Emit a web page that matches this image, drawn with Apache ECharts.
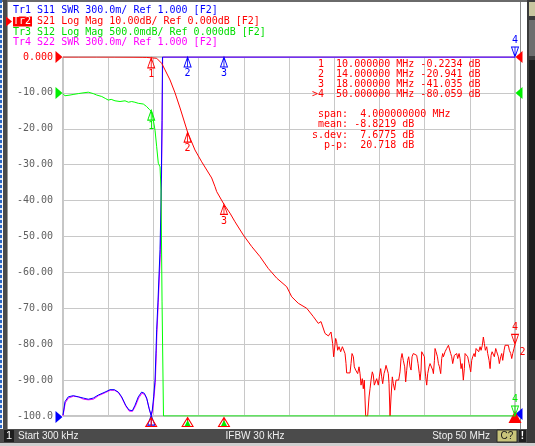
<!DOCTYPE html>
<html><head><meta charset="utf-8">
<script src="https://cdn.jsdelivr.net/npm/echarts@6/dist/echarts.min.js"></script>
<style>html,body{margin:0;padding:0;background:#fff;overflow:hidden}#c{width:535px;height:446px}</style>
</head><body><div id="c"></div>
<script>
// ---------- data ----------
const yTickLabels = ["-100.0","-90.00","-80.00","-70.00","-60.00","-50.00","-40.00","-30.00","-20.00","-10.00","0.000"];
const startMHz = 0.3, stopMHz = 50;

// Tr2 S21 Log Mag (dB)  [MHz, dB]
const redTrace = [
[0.3,0],[2.0,0],[4.0,0],[6.0,-0.02],[8.0,-0.05],[9.0,-0.08],[9.5,-0.12],[10.0,-0.2234],[10.6,-0.36],[11.15,-1.75],
[11.52,-3.6],[12.07,-6.4],[12.62,-10.0],[13.17,-14.2],[14.0,-20.94],[14.81,-25.9],[15.55,-29.2],[16.65,-33.7],[17.01,-36.1],[17.2,-37.5],
[18.0,-41.04],[18.66,-43.5],[19.21,-45.9],[20.13,-49.6],[21.05,-52.8],[21.96,-55.6],[22.87,-58.9],[23.8,-61.6],[24.9,-64.0],[25.45,-66.8],
[26.17,-68.6],[27.1,-70.0],[27.82,-72.3],[28.37,-74.2],[28.67,-73.7],[29.11,-77.0],[29.48,-77.7],[29.77,-76.6],[29.95,-79.8],[30.06,-83.5],
[30.14,-83.3],[30.28,-78.4],[30.39,-79.3],[30.5,-81.7],[30.65,-80.7],[30.76,-80.3],[30.83,-82.1],[31.02,-80.7],[31.2,-80.6],[31.31,-82.6],
[31.42,-85.4],[31.49,-88.0],[31.86,-88.0],[31.97,-85.4],[32.08,-82.6],[32.23,-83.5],[32.33,-86.3],[32.48,-87.2],[32.59,-86.8],[32.7,-88.2],
[32.85,-86.3],[32.96,-88.2],[33.07,-91.4],[33.21,-89.6],[33.32,-92.4],[33.43,-90.0],[33.58,-100],[33.8,-100],[33.95,-94.7],[34.06,-92.4],
[34.17,-90.0],[34.31,-87.7],[34.42,-88.6],[34.53,-91.4],[34.68,-91.0],[34.79,-89.6],[34.97,-91.4],[35.08,-89.1],[35.23,-86.8],[35.34,-89.1],
[35.45,-91.0],[35.6,-88.2],[35.71,-87.2],[35.82,-85.9],[35.96,-86.3],[36.07,-88.2],[36.15,-91.0],[36.26,-100],[36.37,-94.7],[36.51,-89.1],
[36.62,-91.0],[36.77,-92.8],[36.92,-90.0],[37.06,-89.6],[37.21,-90.0],[37.36,-87.7],[37.47,-84.0],[37.58,-82.6],[37.72,-84.5],[37.87,-86.3],
[37.98,-90.5],[38.09,-87.3],[38.2,-84.5],[38.31,-83.5],[38.46,-86.3],[38.57,-87.2],[38.68,-83.5],[38.82,-82.6],[38.97,-82.1],[39.19,-83.1],
[39.34,-85.4],[39.48,-88.2],[39.56,-90.0],[39.67,-87.2],[39.74,-82.1],[39.93,-82.1],[40.04,-83.5],[40.11,-87.2],[40.18,-89.1],[40.29,-91.4],
[40.4,-88.2],[40.55,-86.3],[40.66,-85.4],[40.84,-84.9],[40.95,-87.2],[41.03,-88.2],[41.14,-84.5],[41.21,-81.2],[41.32,-82.1],[41.47,-83.5],
[41.58,-85.4],[41.69,-86.3],[41.83,-88.2],[41.94,-84.0],[42.05,-82.6],[42.13,-83.5],[42.31,-82.1],[42.49,-81.2],[42.68,-80.3],[42.79,-80.7],
[42.93,-82.6],[43.04,-83.5],[43.15,-85.4],[43.23,-84.9],[43.33,-83.1],[43.48,-83.5],[43.59,-82.6],[43.7,-84.0],[43.85,-82.6],[43.96,-84.0],
[44.07,-86.8],[44.18,-85.4],[44.32,-90.0],[44.43,-86.8],[44.51,-82.6],[44.62,-82.1],[44.69,-82.6],[44.8,-83.5],[44.95,-85.4],[45.06,-86.8],
[45.13,-87.7],[45.24,-84.5],[45.35,-83.5],[45.5,-82.6],[45.61,-83.5],[45.72,-81.2],[45.86,-81.7],[46.01,-82.1],[46.16,-80.7],[46.27,-81.7],
[46.41,-80.3],[46.52,-78.0],[46.63,-79.8],[46.74,-81.7],[46.89,-80.7],[47.0,-82.6],[47.15,-84.5],[47.26,-86.8],[47.37,-83.1],[47.48,-82.1],
[47.62,-82.6],[47.73,-83.5],[47.88,-81.2],[47.99,-82.1],[48.17,-83.5],[48.28,-85.4],[48.43,-83.5],[48.54,-82.6],[48.65,-84.5],[48.8,-81.7],
[48.91,-80.3],[49.09,-80.0],[49.27,-80.3],[49.38,-81.7],[49.53,-82.6],[49.64,-84.0],[49.75,-82.6],[49.89,-81.2],[50.0,-80.059]
];

// Tr1 S11 SWR (display clamps at 4.000)
const blueTrace = [
[0.3,1.008],[0.52,1.12],[0.88,1.16],[1.43,1.17],[1.98,1.16],[2.53,1.15],[3.08,1.14],[3.63,1.15],[4.18,1.175],[4.92,1.20],
[5.47,1.22],[5.94,1.22],[6.38,1.20],[6.75,1.16],[7.19,1.09],[7.56,1.05],[7.92,1.044],[8.22,1.09],[8.58,1.16],[8.95,1.20],
[9.24,1.19],[9.5,1.15],[9.76,1.064],[9.98,1.008],[10.12,1.05],[10.27,1.16],[10.42,1.30],[10.53,1.55],[10.6,1.72],[10.75,1.97],
[10.97,2.39],[11.08,2.80],[11.19,3.47],[11.24,4.0],[50.0,4.0]
];

// Tr4 S22 SWR
const magentaTrace = [
[0.3,1.0],[0.55,1.11],[0.9,1.15],[1.45,1.165],[2.0,1.16],[2.55,1.14],[3.1,1.135],[3.65,1.14],[4.2,1.17],[4.95,1.195],
[5.5,1.215],[5.97,1.215],[6.4,1.195],[6.78,1.15],[7.22,1.08],[7.6,1.04],[7.95,1.04],[8.25,1.08],[8.62,1.15],[8.98,1.19],
[9.27,1.18],[9.53,1.14],[9.8,1.055],[10.0,1.0],[10.15,1.04],[10.3,1.15],[10.45,1.28],[10.56,1.52],[10.63,1.70],[10.78,1.95],
[11.0,2.35],[11.1,2.78],[11.2,3.45],[11.26,4.0],[50.0,4.0]
];

// Tr3 S12 Log Mag, 0.5 dB/div (display clamps at -4.5)
const greenTrace = [
[0.3,-0.01],[0.5,-0.04],[0.71,-0.05],[1.07,-0.03],[1.5,-0.02],[1.98,-0.01],[2.5,0.0],[3.08,0.01],[3.63,-0.01],[4.01,-0.03],
[4.56,-0.05],[5.0,-0.08],[5.28,-0.10],[5.6,-0.09],[6.02,-0.11],[6.57,-0.12],[7.12,-0.11],[7.5,-0.13],[7.85,-0.12],[8.2,-0.13],
[8.58,-0.145],[9.13,-0.155],[9.5,-0.19],[9.79,-0.23],[10.05,-0.26],[10.23,-0.38],[10.42,-0.52],[10.6,-0.75],[10.78,-0.98],[10.97,-1.03],
[11.08,-1.35],[11.19,-2.9],[11.35,-4.5],[50.0,-4.5]
];

const markerFreq = [10, 14, 18, 50];
const redMarkerDb = [-0.2234, -20.941, -41.035, -80.059];
const greenMarkerDb = [-0.24, -4.5, -4.5, -4.5];
const blueMarkerSwr = [1.008, 4.0, 4.0, 4.0];

const legendLines = [
  {t:"Tr1 S11 SWR 300.0m/ Ref 1.000 [F2]", c:"#0000ff"},
  {t:"Tr2 S21 Log Mag 10.00dB/ Ref 0.000dB [F2]", c:"#ff0000"},
  {t:"Tr3 S12 Log Mag 500.0mdB/ Ref 0.000dB [F2]", c:"#00dd00"},
  {t:"Tr4 S22 SWR 300.0m/ Ref 1.000 [F2]", c:"#ff00ff"}
];
const markerTable = [
  " 1  10.000000 MHz -0.2234 dB",
  " 2  14.000000 MHz -20.941 dB",
  " 3  18.000000 MHz -41.035 dB",
  ">4  50.000000 MHz -80.059 dB"
];
const statsTable = [
  " span:  4.000000000 MHz",
  " mean: -8.8219 dB",
  "s.dev:  7.6775 dB",
  "  p-p:  20.718 dB"
];

// ---------- styling ----------
const MONO = '"DejaVu Sans Mono", monospace';
const RED = '#ff0000', BLUE = '#0000ff', GREEN = '#00ee00', MAG = '#ff00ff';
const UP = 'path://M4,0L8,9L0,9Z M4,0L4,9';
const DOWN = 'path://M0,0L8,0L4,9Z M4,0L4,9';
const TRI_R = 'path://M0,0L7,6L0,12Z';
const TRI_L = 'path://M7,0L0,6L7,12Z';

function mk(coord, color, dir, label) {
  return {
    coord: coord, symbol: dir === 'up' ? UP : DOWN, symbolSize: [7, 10],
    symbolOffset: [0, dir === 'up' ? 5 : -5],
    itemStyle: {color: 'rgba(0,0,0,0)', borderColor: color, borderWidth: 1},
    label: {show: !!label, formatter: label || '', position: dir === 'up' ? 'bottom' : 'top', distance: 1,
      color: color, fontSize: 10, fontFamily: MONO}
  };
}
function ref(coord, color, side, dy) {
  return {
    coord: coord, symbol: side === 'left' ? TRI_R : TRI_L, symbolSize: [7, 12],
    symbolOffset: [side === 'left' ? -4 : 4, dy || 0],
    itemStyle: {color: color, borderWidth: 0}, label: {show: false}
  };
}
function stim(coord, color, filled, size, dy) {
  return {
    coord: coord, symbol: filled ? 'triangle' : UP, symbolSize: size, symbolOffset: [0, dy],
    itemStyle: filled ? {color: color, borderWidth: 0} : {color: 'rgba(0,0,0,0)', borderColor: color, borderWidth: 1},
    label: {show: false}
  };
}

const redMarks = [
  mk([markerFreq[0], redMarkerDb[0]], RED, 'up', '1'),
  mk([markerFreq[1], redMarkerDb[1]], RED, 'up', '2'),
  mk([markerFreq[2], redMarkerDb[2]], RED, 'up', '3'),
  mk([markerFreq[3], redMarkerDb[3]], RED, 'down', '4'),
  {coord: [markerFreq[3], redMarkerDb[3]], symbol: 'circle', symbolSize: 1, itemStyle: {color: 'rgba(0,0,0,0)'},
   label: {show: true, formatter: '2', position: 'right', offset: [-1, 8], color: RED, fontSize: 10, fontFamily: MONO}},
  ref([startMHz, 0], RED, 'left'), ref([stopMHz, 0], RED, 'right'),
  stim([markerFreq[0], -100], RED, false, [11, 9], 6),
  stim([markerFreq[1], -100], RED, false, [11, 9], 6),
  stim([markerFreq[2], -100], RED, false, [11, 9], 6),
  stim([markerFreq[3], -100], RED, true, [13, 12], 1)
];
const greenMarks = [
  mk([markerFreq[0], greenMarkerDb[0]], GREEN, 'up', '1'),
  stim([markerFreq[1], greenMarkerDb[1]], GREEN, true, [6, 6], 7),
  stim([markerFreq[2], greenMarkerDb[2]], GREEN, true, [6, 6], 7),
  mk([markerFreq[3], greenMarkerDb[3]], GREEN, 'down', '4'),
  ref([startMHz, 0], GREEN, 'left'), ref([stopMHz, 0], GREEN, 'right')
];
const blueMarks = [
  mk([markerFreq[0], blueMarkerSwr[0]], BLUE, 'up', ''),
  mk([markerFreq[1], blueMarkerSwr[1]], BLUE, 'up', '2'),
  mk([markerFreq[2], blueMarkerSwr[2]], BLUE, 'up', '3'),
  mk([markerFreq[3], blueMarkerSwr[3]], BLUE, 'down', '4'),
  ref([startMHz, 1.0], BLUE, 'left', 1), ref([stopMHz, 1.0], BLUE, 'right', -2)
];

function line(name, data, color, yi, marks, z) {
  return {
    name: name, type: 'line', data: data, yAxisIndex: yi, showSymbol: false, symbol: 'none',
    lineStyle: {color: color, width: 1}, itemStyle: {color: color}, z: z, silent: true,
    markPoint: {silent: true, animation: false, data: marks || []}
  };
}

// ---------- graphics (frame, texts) ----------
const g = [];
g.push({type: 'rect', shape: {x: 0, y: 0, width: 535, height: 2}, style: {fill: '#6a6a6a'}, silent: true});
g.push({type: 'rect', shape: {x: 0, y: 0, width: 2, height: 446}, style: {fill: '#dde6f2'}, silent: true});
g.push({type: 'line', shape: {x1: 1, y1: 0, x2: 1, y2: 446}, style: {stroke: '#2a66c8', lineWidth: 2, lineDash: [3, 2]}, silent: true});
g.push({type: 'rect', shape: {x: 3, y: 0, width: 4, height: 446}, style: {fill: '#4a4a4a'}, silent: true});
g.push({type: 'rect', shape: {x: 7, y: 2, width: 1, height: 444}, style: {fill: '#9a9a9a'}, silent: true});
g.push({type: 'line', shape: {x1: 520.5, y1: 2, x2: 520.5, y2: 446}, style: {stroke: '#8a8a8a', lineWidth: 1}, silent: true});
g.push({type: 'rect', shape: {x: 527, y: 0, width: 8, height: 446}, style: {fill: '#3a3a3a'}, silent: true});
g.push({type: 'rect', shape: {x: 529, y: 2, width: 6, height: 14}, style: {fill: '#c9c6a0'}, silent: true});
g.push({type: 'rect', shape: {x: 529, y: 20, width: 6, height: 36}, style: {fill: '#6e6e6e'}, silent: true});
g.push({type: 'rect', shape: {x: 529, y: 60, width: 6, height: 300}, style: {fill: '#1e1e1e'}, silent: true});
// status bar
g.push({type: 'rect', shape: {x: 0, y: 429, width: 527, height: 14}, style: {fill: '#4b4b4b'}, silent: true});
g.push({type: 'rect', shape: {x: 0, y: 443, width: 535, height: 3}, style: {fill: '#cfcfcf'}, silent: true});
g.push({type: 'rect', shape: {x: 4, y: 430, width: 10, height: 12}, style: {fill: '#1e1e1e'}, silent: true});
g.push({type: 'text', style: {text: '1', x: 9, y: 436, fill: '#ffffff', font: '11px "Liberation Sans"', align: 'center', verticalAlign: 'middle', textAlign: 'center', textVerticalAlign: 'middle'}, silent: true});
g.push({type: 'text', style: {text: 'Start 300 kHz', x: 18, y: 436, fill: '#f0f0f0', font: '10px "Liberation Sans"', align: 'left', verticalAlign: 'middle', textAlign: 'left', textVerticalAlign: 'middle'}, silent: true});
g.push({type: 'text', style: {text: 'IFBW 30 kHz', x: 255, y: 436, fill: '#f0f0f0', font: '10px "Liberation Sans"', align: 'center', verticalAlign: 'middle', textAlign: 'center', textVerticalAlign: 'middle'}, silent: true});
g.push({type: 'text', style: {text: 'Stop 50 MHz', x: 490, y: 436, fill: '#f0f0f0', font: '10px "Liberation Sans"', align: 'right', verticalAlign: 'middle', textAlign: 'right', textVerticalAlign: 'middle'}, silent: true});
g.push({type: 'rect', shape: {x: 497, y: 430, width: 20, height: 12}, style: {fill: '#c8c47a', stroke: '#2a2a2a', lineWidth: 1}, silent: true});
g.push({type: 'text', style: {text: 'C?', x: 507, y: 436, fill: '#1a1a1a', font: '10px "Liberation Sans"', align: 'center', verticalAlign: 'middle', textAlign: 'center', textVerticalAlign: 'middle'}, silent: true});
g.push({type: 'rect', shape: {x: 519, y: 430, width: 7, height: 12}, style: {fill: '#1e1e1e'}, silent: true});
g.push({type: 'text', style: {text: '!', x: 522.5, y: 436, fill: '#ffffff', font: 'bold 10px "Liberation Sans"', align: 'center', verticalAlign: 'middle', textAlign: 'center', textVerticalAlign: 'middle'}, silent: true});
// legend lines
const legendY = [10.5, 21.5, 32, 42.5];
g.push({type: 'rect', shape: {x: 13, y: 16.5, width: 19, height: 10}, style: {fill: RED}, silent: true});
g.push({type: 'polygon', shape: {points: [[6, 16.5], [12, 21.5], [6, 26.5]]}, style: {fill: RED}, silent: true});
legendLines.forEach(function (L, i) {
  let txt = L.t;
  if (i === 1) {
    g.push({type: 'text', style: {text: 'Tr2', x: 13, y: legendY[i], fill: '#ffffff', font: '10px ' + MONO, align: 'left', verticalAlign: 'middle', textAlign: 'left', textVerticalAlign: 'middle'}, silent: true, z: 10});
    txt = '   ' + txt.slice(3);
  }
  g.push({type: 'text', style: {text: txt, x: 13, y: legendY[i], fill: L.c, font: '10px ' + MONO, align: 'left', verticalAlign: 'middle', textAlign: 'left', textVerticalAlign: 'middle'}, silent: true, z: 10});
});
const tableY = [64, 74, 84, 94];
markerTable.forEach(function (t, i) {
  g.push({type: 'text', style: {text: t, x: 312, y: tableY[i], fill: RED, font: '10px ' + MONO, align: 'left', verticalAlign: 'middle', textAlign: 'left', textVerticalAlign: 'middle'}, silent: true, z: 10});
});
const statsY = [114, 124.5, 135, 145];
statsTable.forEach(function (t, i) {
  g.push({type: 'text', style: {text: t, x: 312, y: statsY[i], fill: RED, font: '10px ' + MONO, align: 'left', verticalAlign: 'middle', textAlign: 'left', textVerticalAlign: 'middle'}, silent: true, z: 10});
});

// ---------- chart ----------
const chart = echarts.init(document.getElementById('c'), null, {renderer: 'canvas'});
chart.setOption({
  animation: false,
  backgroundColor: '#ffffff',
  grid: {left: 63, right: 20, top: 57, bottom: 30, show: true, borderColor: '#8c8c8c', borderWidth: 1, backgroundColor: '#ffffff'},
  xAxis: {
    type: 'value', min: startMHz, max: stopMHz, interval: (stopMHz - startMHz) / 10,
    axisLabel: {show: false}, axisTick: {show: false}, axisLine: {show: false},
    splitLine: {show: true, lineStyle: {color: '#c8c8c8', width: 1}}
  },
  yAxis: [
    {type: 'value', min: -100, max: 0, interval: 10,
      axisLine: {show: false}, axisTick: {show: false},
      splitLine: {show: true, lineStyle: {color: '#c8c8c8', width: 1}},
      axisLabel: {margin: 10, fontFamily: MONO, fontSize: 10, color: '#606060',
        formatter: function (v) {
          const s = yTickLabels[Math.round((v + 100) / 10)];
          return v === 0 ? '{r|' + s + '}' : '{g|' + s + '}';
        },
        rich: {r: {color: RED, fontFamily: MONO, fontSize: 10}, g: {color: '#606060', fontFamily: MONO, fontSize: 10}}
      }},
    {type: 'value', min: -4.5, max: 0.5, show: false},
    {type: 'value', min: 1.0, max: 4.0, show: false}
  ],
  series: [
    line('S22', magentaTrace, MAG, 2, [], 2),
    line('S11', blueTrace, BLUE, 2, blueMarks, 3),
    line('S21', redTrace, RED, 0, redMarks, 4),
    line('S12', greenTrace, '#00ff00', 1, greenMarks, 5)
  ],
  graphic: g
});
</script>
</body></html>
